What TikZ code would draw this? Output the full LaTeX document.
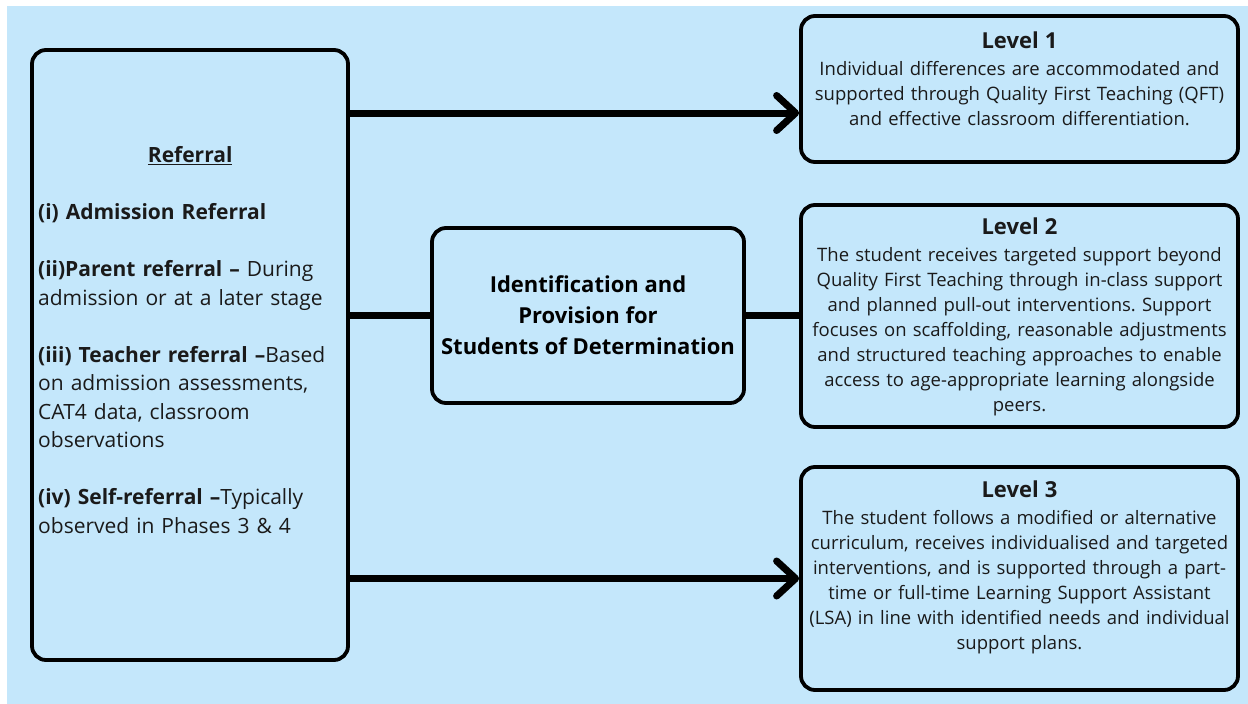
\documentclass[tikz,border=0pt]{standalone}
\usepackage{fontspec}
\setmainfont{Open Sans}
\usetikzlibrary{arrows.meta,calc}
\definecolor{bg}{HTML}{C4E7FB}
\definecolor{ink}{HTML}{1A1A1A}
\frenchspacing
\begin{document}
\begin{tikzpicture}[x=1pt,y=-1pt,
  box/.style={draw=black, line width=3.8pt, rounded corners=14pt, fill=bg, inner sep=0pt},
  conn/.style={line width=7pt, draw=black},
  arr/.style={conn, -{Straight Barb[length=19pt,width=35pt,line cap=round,line join=round]}},
  leveltext/.style={anchor=north, text width=470pt, align=center, inner sep=0pt, text=ink, font=\fontsize{18.5}{25}\selectfont},
  midtext/.style={align=center, text=black, font=\fontsize{22}{31}\selectfont\bfseries},
  reftext/.style={anchor=west, text width=304pt, align=left, inner sep=0pt, text=ink, font=\fontsize{21}{28.5}\selectfont}
]
\useasboundingbox (0,0) rectangle (1248,704);
\fill[white] (0,0) rectangle (1248,704);
\fill[bg] (7,6) rectangle (1248,704);

% boxes
\node[box, minimum width=316pt, minimum height=610pt] (ref) at (190,355) {};
\node[box, midtext, minimum width=312pt, minimum height=175pt] (mid) at (588,315.5)
  {Identification and\\Provision for\\Students of Determination};
\node[box, minimum width=437pt, minimum height=146pt] (L1) at (1019.5,89) {};
\node[box, minimum width=437pt, minimum height=222pt] (L2) at (1019.5,316) {};
\node[box, minimum width=437pt, minimum height=223pt] (L3) at (1019.5,578.5) {};

% texts
\node[reftext] (reft) at (38,340) {%
\makebox[\linewidth]{\bfseries\underline{Referral}}\\[28.5pt]
\textbf{(i) Admission Referral}\\[28.5pt]
\textbf{(ii)Parent referral –} During\\
admission or at a later stage\\[28.5pt]
\textbf{(iii) Teacher referral –}Based\\
on admission assessments,\\
CAT4 data, classroom\\
observations\\[28.5pt]
\textbf{(iv) Self-referral –}Typically\\
observed in Phases 3 \& 4};

\node[leveltext] (t1) at ($(L1.north)+(0,17)$) {%
{\bfseries\fontsize{22}{25}\selectfont Level 1}\\[2pt]
Individual differences are accommodated and\\
supported through Quality First Teaching (QFT)\\
and effective classroom differentiation.};

\node[leveltext] (t2) at ($(L2.north)+(0,14)$) {%
{\bfseries\fontsize{22}{25}\selectfont Level 2}\\[2pt]
The student receives targeted support beyond\\
Quality First Teaching through in-class support\\
and planned pull-out interventions. Support\\
focuses on scaffolding, reasonable adjustments\\
and structured teaching approaches to enable\\
access to age-appropriate learning alongside\\
peers.};

\node[leveltext] (t3) at ($(L3.north)+(0,15)$) {%
{\bfseries\fontsize{22}{25}\selectfont Level 3}\\[2pt]
The student follows a modified or alternative\\
curriculum, receives individualised and targeted\\
interventions, and is supported through a part-\\
time or full-time Learning Support Assistant\\
(LSA) in line with identified needs and individual\\
support plans.};

% connectors
\draw[arr] ([yshift=-24pt]ref.east |- L1.west) -- ([yshift=-24pt]L1.west);
\draw[conn] (ref.east |- mid.west) -- (mid.west);
\draw[conn] (mid.east) -- (L2.west |- mid.east);
\draw[arr] (ref.east |- L3.west) -- (L3.west);
\end{tikzpicture}
\end{document}
